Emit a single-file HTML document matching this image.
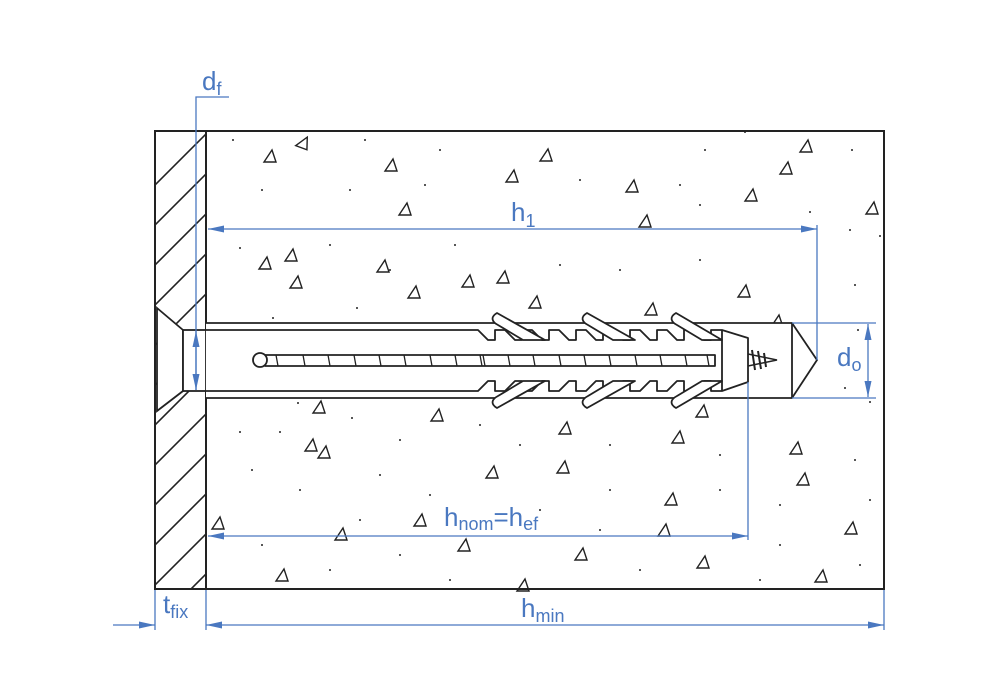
<!DOCTYPE html>
<html><head><meta charset="utf-8"><style>
html,body{margin:0;padding:0;background:#fff;}
svg{display:block;}
.t{font-family:"Liberation Sans",sans-serif;fill:#4a78c0;}
</style></head><body>
<svg width="1000" height="700" viewBox="0 0 1000 700" xmlns="http://www.w3.org/2000/svg">
<defs>
<clipPath id="pl"><rect x="155" y="131" width="51" height="458"/></clipPath>
<marker id="a" viewBox="0 0 16 7" refX="16" refY="3.5" markerWidth="16" markerHeight="7" orient="auto-start-reverse" markerUnits="userSpaceOnUse"><path d="M0,0 L16,3.5 L0,7z" fill="#4a78c0"/></marker>
<g id="tr"><path d="M-6,5 L6,5 L2,-7 Z" fill="none" stroke="#222" stroke-width="1.4"/></g>
</defs>
<rect x="155" y="131" width="729" height="458" fill="#fff" stroke="#222" stroke-width="2"/>
<g clip-path="url(#pl)" stroke="#222" stroke-width="1.6">
<path d="M150,190 L215,125 M150,230 L215,165 M150,270 L215,205 M150,310 L215,245 M150,350 L215,285 M150,390 L215,325 M150,430 L215,365 M150,470 L215,405 M150,510 L215,445 M150,550 L215,485 M150,590 L215,525 M150,630 L215,565 M150,670 L215,605"/>
</g>
<line x1="206" y1="131" x2="206" y2="589" stroke="#222" stroke-width="2"/>
<path d="M157,308 L183,330 L183,391 L157,411 Z" fill="#fff" stroke="#222" stroke-width="1.8"/>
<rect x="183" y="330" width="23" height="61" fill="#fff" stroke="#222" stroke-width="1.8"/>
<g>
<use href="#tr" x="270" y="157"/><use href="#tr" x="303" y="143" transform="rotate(20 303 143)"/><use href="#tr" x="391" y="166"/><use href="#tr" x="546" y="156"/><use href="#tr" x="512" y="177"/><use href="#tr" x="632" y="187"/><use href="#tr" x="405" y="210"/><use href="#tr" x="751" y="196"/><use href="#tr" x="806" y="147"/><use href="#tr" x="786" y="169"/><use href="#tr" x="872" y="209"/><use href="#tr" x="645" y="222"/><use href="#tr" x="291" y="256"/><use href="#tr" x="265" y="264"/><use href="#tr" x="383" y="267"/><use href="#tr" x="296" y="283"/><use href="#tr" x="468" y="282"/><use href="#tr" x="503" y="278"/><use href="#tr" x="414" y="293"/><use href="#tr" x="535" y="303"/><use href="#tr" x="651" y="310"/><use href="#tr" x="744" y="292"/><use href="#tr" x="777" y="322"/><use href="#tr" x="319" y="408"/><use href="#tr" x="311" y="446"/><use href="#tr" x="324" y="453"/><use href="#tr" x="437" y="416"/><use href="#tr" x="678" y="438"/><use href="#tr" x="796" y="449"/><use href="#tr" x="702" y="412"/><use href="#tr" x="565" y="429"/><use href="#tr" x="563" y="468"/><use href="#tr" x="492" y="473"/><use href="#tr" x="803" y="480"/><use href="#tr" x="671" y="500"/><use href="#tr" x="218" y="524"/><use href="#tr" x="341" y="535"/><use href="#tr" x="464" y="546"/><use href="#tr" x="581" y="555"/><use href="#tr" x="664" y="531"/><use href="#tr" x="703" y="563"/><use href="#tr" x="851" y="529"/><use href="#tr" x="821" y="577"/><use href="#tr" x="282" y="576"/><use href="#tr" x="523" y="586"/><use href="#tr" x="420" y="521"/>
</g>
<g fill="#222">
<circle cx="233" cy="140" r="1"/><circle cx="365" cy="140" r="1"/><circle cx="440" cy="150" r="1"/><circle cx="705" cy="150" r="1"/><circle cx="745" cy="132" r="1"/><circle cx="852" cy="150" r="1"/><circle cx="262" cy="190" r="1"/><circle cx="350" cy="190" r="1"/><circle cx="425" cy="185" r="1"/><circle cx="580" cy="180" r="1"/><circle cx="680" cy="185" r="1"/><circle cx="700" cy="205" r="1"/><circle cx="810" cy="212" r="1"/><circle cx="850" cy="230" r="1"/><circle cx="880" cy="236" r="1"/><circle cx="240" cy="248" r="1"/><circle cx="330" cy="245" r="1"/><circle cx="390" cy="270" r="1"/><circle cx="455" cy="245" r="1"/><circle cx="560" cy="265" r="1"/><circle cx="620" cy="270" r="1"/><circle cx="700" cy="260" r="1"/><circle cx="855" cy="285" r="1"/><circle cx="273" cy="318" r="1"/><circle cx="357" cy="308" r="1"/><circle cx="858" cy="330" r="1"/><circle cx="845" cy="388" r="1"/><circle cx="870" cy="402" r="1"/><circle cx="298" cy="403" r="1"/><circle cx="352" cy="418" r="1"/><circle cx="240" cy="432" r="1"/><circle cx="280" cy="432" r="1"/><circle cx="400" cy="440" r="1"/><circle cx="480" cy="425" r="1"/><circle cx="520" cy="445" r="1"/><circle cx="610" cy="445" r="1"/><circle cx="720" cy="455" r="1"/><circle cx="855" cy="460" r="1"/><circle cx="252" cy="470" r="1"/><circle cx="300" cy="490" r="1"/><circle cx="380" cy="475" r="1"/><circle cx="430" cy="495" r="1"/><circle cx="610" cy="490" r="1"/><circle cx="720" cy="490" r="1"/><circle cx="780" cy="505" r="1"/><circle cx="870" cy="500" r="1"/><circle cx="262" cy="545" r="1"/><circle cx="360" cy="520" r="1"/><circle cx="540" cy="510" r="1"/><circle cx="600" cy="530" r="1"/><circle cx="780" cy="545" r="1"/><circle cx="330" cy="570" r="1"/><circle cx="400" cy="555" r="1"/><circle cx="450" cy="580" r="1"/><circle cx="640" cy="570" r="1"/><circle cx="760" cy="580" r="1"/><circle cx="860" cy="565" r="1"/>
</g>
<path d="M206,323 L792,323 L817,360 L792,398 L206,398" fill="#fff" stroke="#222" stroke-width="1.8"/>
<line x1="792" y1="323" x2="792" y2="398" stroke="#222" stroke-width="1.8"/>
<g fill="#fff" stroke="#222" stroke-width="1.8" stroke-linejoin="round">
<path d="M206,330 L478,330 L488,340 L495,340 L495,330 L505,330 L515,340 L522,340 L522,330 L532,330 L542,340 L549,340 L549,330 L559,330 L569,340 L576,340 L576,330 L586,330 L596,340 L603,340 L603,330 L613,330 L623,340 L630,340 L630,330 L640,330 L650,340 L657,340 L657,330 L667,330 L677,340 L684,340 L684,330 L694,330 L704,340 L711,340 L711,330 L722,330 L748,338 L748,382 L722,391 L711,391 L711,381 L704,381 L694,391 L684,391 L684,381 L677,381 L667,391 L657,391 L657,381 L650,381 L640,391 L630,391 L630,381 L623,381 L613,391 L603,391 L603,381 L596,381 L586,391 L576,391 L576,381 L569,381 L559,391 L549,391 L549,381 L542,381 L532,391 L522,391 L522,381 L515,381 L505,391 L495,391 L495,381 L488,381 L478,391 L206,391"/>
<line x1="722" y1="330" x2="722" y2="391"/>
<path d="M497,313 C490,317 492,322 498,325 L523,340 L545,340 Z"/>
<path d="M587,313 C580,317 582,322 588,325 L613,340 L635,340 Z"/>
<path d="M676,313 C669,317 671,322 677,325 L702,340 L722,340 Z"/>
<path d="M497,408 C490,404 492,399 498,396 L523,381 L545,381 Z"/>
<path d="M587,408 C580,404 582,399 588,396 L613,381 L635,381 Z"/>
<path d="M676,408 C669,404 671,399 677,396 L702,381 L722,381 Z"/>
<rect x="265" y="355" width="450" height="11"/>
<circle cx="260" cy="360" r="7"/>
</g>
<g stroke="#222" stroke-width="1.3">
<path d="M276,355 l2,11 M303,355 l2,11 M328,355 l2,11 M354,355 l2,11 M379,355 l2,11 M404,355 l2,11 M430,355 l2,11 M455,355 l2,11 M480,355 l2,11 M483,355 l2,11 M508,355 l2,11 M533,355 l2,11 M559,355 l2,11 M584,355 l2,11 M609,355 l2,11 M635,355 l2,11 M660,355 l2,11 M685,355 l2,11 M707,355 l2,11"/>
</g>
<path d="M748,354 L777,360 L748,366" fill="none" stroke="#222" stroke-width="1.5"/>
<path d="M752,350 l3,20 M758,351 l3,18 M764,353 l2,14" stroke="#222" stroke-width="2"/>
<g stroke="#4a78c0" stroke-width="1.3" fill="none">
<path d="M196,390 L196,97 L229,97"/>
<line x1="196" y1="331" x2="196" y2="390" marker-start="url(#a)" marker-end="url(#a)"/>
<line x1="208" y1="229" x2="817" y2="229" marker-start="url(#a)" marker-end="url(#a)"/>
<line x1="817" y1="225" x2="817" y2="360"/>
<path d="M792,323 L876,323 M792,398 L876,398"/>
<line x1="868" y1="324" x2="868" y2="397" marker-start="url(#a)" marker-end="url(#a)"/>
<line x1="208" y1="536" x2="748" y2="536" marker-start="url(#a)" marker-end="url(#a)"/>
<line x1="748" y1="382" x2="748" y2="540"/>
<path d="M155,590 L155,630 M206,590 L206,630 M884,590 L884,630"/>
<line x1="113" y1="625" x2="155" y2="625" marker-end="url(#a)"/>
<line x1="206" y1="625" x2="884" y2="625" marker-start="url(#a)" marker-end="url(#a)"/>
</g>
<text class="t" x="202" y="90" font-size="26">d<tspan font-size="18" dy="5">f</tspan></text>
<text class="t" x="511" y="221" font-size="26">h<tspan font-size="18" dy="6">1</tspan></text>
<text class="t" x="837" y="366" font-size="26">d<tspan font-size="18" dy="5">o</tspan></text>
<text class="t" x="444" y="526" font-size="26">h<tspan font-size="18" dy="4">nom</tspan><tspan dy="-4">=h</tspan><tspan font-size="18" dy="4">ef</tspan></text>
<text class="t" x="163" y="613" font-size="26">t<tspan font-size="18" dy="5">fix</tspan></text>
<text class="t" x="521" y="617" font-size="26">h<tspan font-size="18" dy="5">min</tspan></text>
</svg>
</body></html>
